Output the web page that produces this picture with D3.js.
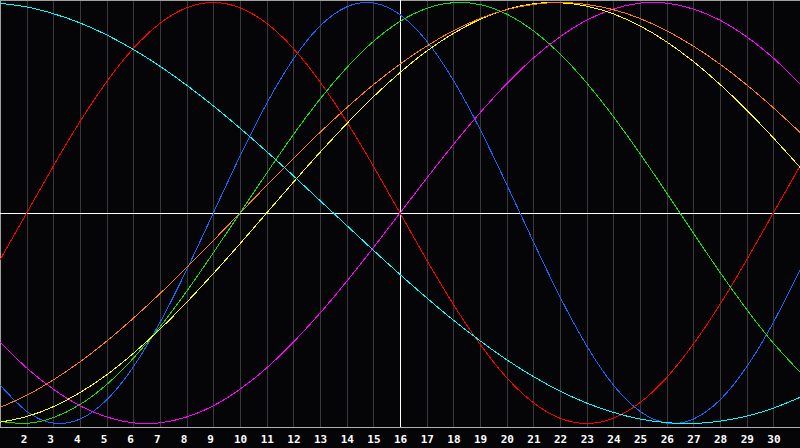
<!DOCTYPE html>
<html>
<head>
<meta charset="utf-8">
<script src="https://cdn.jsdelivr.net/npm/d3@7"></script>
<style>
  html, body { margin: 0; padding: 0; background: #050507; }
  svg { display: block; width: 800px; height: 448px; }
</style>
</head>
<body>
<svg></svg>
<script>
// days on the x axis and the labels under the grid
const days = d3.range(1, 32);
const tickDays = d3.range(2, 31);

// each cycle, value per day (-1 .. 1)
const physical = [-0.817,-0.942,-0.998,-0.979,-0.888,-0.731,-0.520,-0.270,0,0.270,0.520,0.731,0.888,0.979,0.998,0.942,
  0.817,0.631,0.398,0.136,-0.136,-0.398,-0.631,-0.817,-0.942,-0.998,-0.979,-0.888,-0.731,-0.520,-0.270];
const emotional = [-0.223,0,0.223,0.434,0.623,0.782,0.901,0.975,1,0.975,0.901,0.782,0.623,0.434,0.223,0,
  -0.223,-0.434,-0.623,-0.782,-0.901,-0.975,-1,-0.975,-0.901,-0.782,-0.623,-0.434,-0.223,0,0.223];
const intellectual = [-0.990,-0.999,-0.972,-0.910,-0.815,-0.690,-0.541,-0.372,-0.189,0,0.189,0.372,0.541,0.690,0.815,0.910,
  0.972,0.999,0.990,0.945,0.866,0.756,0.618,0.458,0.282,0.095,-0.095,-0.282,-0.458,-0.618,-0.756];
const intuitive = [-0.614,-0.736,-0.837,-0.916,-0.969,-0.997,-0.997,-0.969,-0.916,-0.837,-0.736,-0.614,-0.476,-0.325,-0.165,0,
  0.165,0.325,0.476,0.614,0.736,0.837,0.916,0.969,0.997,0.997,0.969,0.916,0.837,0.736,0.614];
const aesthetic = [-0.994,-0.967,-0.920,-0.853,-0.769,-0.667,-0.552,-0.424,-0.288,-0.146,0,0.146,0.288,0.424,0.552,0.667,
  0.769,0.853,0.920,0.967,0.994,0.999,0.983,0.946,0.889,0.813,0.720,0.611,0.489,0.357,0.217];
const awareness = [-0.924,-0.866,-0.793,-0.707,-0.609,-0.5,-0.383,-0.259,-0.131,0,0.131,0.259,0.383,0.5,0.609,0.707,
  0.793,0.866,0.924,0.966,0.991,1,0.991,0.966,0.924,0.866,0.793,0.707,0.609,0.5,0.383];
const spiritual = [0.996,0.979,0.947,0.903,0.846,0.777,0.697,0.607,0.509,0.403,0.292,0.177,0.059,-0.059,-0.177,-0.292,
  -0.403,-0.509,-0.607,-0.697,-0.777,-0.846,-0.903,-0.947,-0.979,-0.996,-1,-0.989,-0.965,-0.927,-0.876];

const todayDay = 16;

function drawChart() {
  let svg = d3.select("svg");
  svg.selectAll('*').remove();

  const attr_area = { width: 800, height: 448, plotBottom: 427 };

  const scaleX = d3.scaleLinear()
                   .domain([1, 31])
                   .range([0, attr_area.width]);
  const scaleY = d3.scaleLinear()
                   .domain([-1, 1])
                   .range([423.5, 2.5]);

  svg.append("rect")
     .attr("width", attr_area.width)
     .attr("height", attr_area.height)
     .attr("fill", "#050507");

  // vertical grid, one line per day
  svg.append("g")
     .selectAll("line")
     .data(tickDays.filter(d => d !== todayDay))
     .join("line")
     .attr("x1", d => Math.round(scaleX(d)) + 0.5)
     .attr("x2", d => Math.round(scaleX(d)) + 0.5)
     .attr("y1", 0)
     .attr("y2", attr_area.plotBottom)
     .attr("stroke", "#3a3a3e")
     .attr("shape-rendering", "crispEdges");

  // frame: top, left, bottom axis
  svg.append("line")
     .attr("x1", 0).attr("x2", attr_area.width)
     .attr("y1", 0.5).attr("y2", 0.5)
     .attr("stroke", "#a0a0a0")
     .attr("shape-rendering", "crispEdges");
  svg.append("line")
     .attr("x1", 0.5).attr("x2", 0.5)
     .attr("y1", 0).attr("y2", attr_area.plotBottom)
     .attr("stroke", "#a0a0a0")
     .attr("shape-rendering", "crispEdges");
  svg.append("line")
     .attr("x1", 0).attr("x2", attr_area.width)
     .attr("y1", attr_area.plotBottom + 0.5).attr("y2", attr_area.plotBottom + 0.5)
     .attr("stroke", "#b0b0b0")
     .attr("shape-rendering", "crispEdges");

  // zero line and today line
  svg.append("line")
     .attr("x1", 0).attr("x2", attr_area.width)
     .attr("y1", Math.round(scaleY(0)) + 0.5).attr("y2", Math.round(scaleY(0)) + 0.5)
     .attr("stroke", "#ffffff")
     .attr("shape-rendering", "crispEdges");
  svg.append("line")
     .attr("x1", scaleX(todayDay) + 0.5).attr("x2", scaleX(todayDay) + 0.5)
     .attr("y1", 0).attr("y2", attr_area.plotBottom)
     .attr("stroke", "#ffffff")
     .attr("shape-rendering", "crispEdges");

  // day labels
  svg.append("g")
     .selectAll("text")
     .data(tickDays)
     .join("text")
     .attr("x", d => scaleX(d) - 6)
     .attr("y", 443)
     .attr("fill", "#ffffff")
     .style("font-family", "'DejaVu Sans Mono', monospace")
     .style("font-size", "11px")
     .style("font-weight", "bold")
     .text(d => d);

  // curves
  const series = [physical, emotional, intellectual, intuitive, aesthetic, awareness, spiritual];
  const colors = ["#1468ff", "#ff0000", "#12e012", "#ff00ff", "#ffff00", "#ff8000", "#00ffff"];

  svg.append("clipPath").attr("id", "plot")
     .append("rect").attr("x", 0).attr("y", 1).attr("width", attr_area.width).attr("height", attr_area.plotBottom - 1);

  const line = d3.line()
                 .x((v, i) => scaleX(days[i]))
                 .y(v => scaleY(v))
                 .curve(d3.curveNatural);

  const g = svg.append("g").attr("clip-path", "url(#plot)");
  series.forEach((values, i) => {
    g.append("path")
     .attr("d", line(values))
     .attr("fill", "none")
     .attr("stroke", colors[i])
     .attr("stroke-width", 1)
     .attr("shape-rendering", "crispEdges");
  });
}

drawChart();
</script>
</body>
</html>
